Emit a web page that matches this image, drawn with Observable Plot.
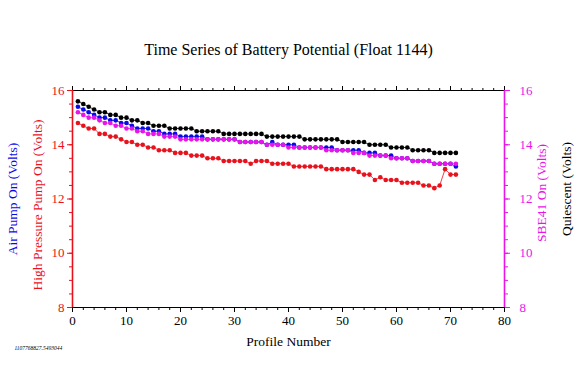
<!DOCTYPE html>
<html><head><meta charset="utf-8">
<script src="https://cdn.jsdelivr.net/npm/d3@7"></script>
<script src="https://cdn.jsdelivr.net/npm/@observablehq/plot@0.6"></script>
<style>body{margin:0;background:#fff;} svg{display:block;}</style>
</head><body><div id="chart"></div>
<script>
const profiles = [1,2,3,4,5,6,7,8,9,10,11,12,13,14,15,16,17,18,19,20,21,22,23,24,25,26,27,28,29,30,31,32,33,34,35,36,37,38,39,40,41,42,43,44,45,46,47,48,49,50,51,52,53,54,55,56,57,58,59,60,61,62,63,64,65,66,67,68,69,70,71];
const quiescent = [15.6,15.5,15.4,15.3,15.2,15.2,15.1,15.1,15.0,15.0,14.9,14.9,14.8,14.8,14.7,14.7,14.7,14.6,14.6,14.6,14.6,14.6,14.5,14.5,14.5,14.5,14.5,14.4,14.4,14.4,14.4,14.4,14.4,14.4,14.4,14.3,14.3,14.3,14.3,14.3,14.3,14.3,14.2,14.2,14.2,14.2,14.2,14.2,14.2,14.1,14.1,14.1,14.1,14.1,14.0,14.0,14.0,14.0,13.9,13.9,13.9,13.9,13.8,13.8,13.8,13.8,13.7,13.7,13.7,13.7,13.7];
const airPump = [15.4,15.3,15.2,15.1,15.0,15.0,14.9,14.9,14.8,14.8,14.7,14.6,14.6,14.6,14.5,14.5,14.4,14.4,14.4,14.3,14.3,14.3,14.3,14.3,14.2,14.2,14.2,14.2,14.2,14.2,14.1,14.1,14.1,14.1,14.1,14.0,14.1,14.0,14.0,14.0,14.0,13.9,13.9,13.9,13.9,13.9,13.9,13.9,13.8,13.8,13.8,13.8,13.8,13.7,13.7,13.7,13.6,13.6,13.6,13.5,13.5,13.5,13.4,13.4,13.4,13.4,13.3,13.3,13.3,13.3,13.2];
const sbe41 = [15.2,15.1,15.0,15.0,14.9,14.8,14.8,14.7,14.7,14.6,14.6,14.5,14.5,14.4,14.4,14.4,14.3,14.3,14.3,14.2,14.2,14.2,14.2,14.2,14.2,14.2,14.2,14.2,14.2,14.2,14.1,14.1,14.1,14.1,14.1,14.0,14.0,14.0,14.0,13.9,13.9,13.9,13.9,13.9,13.9,13.9,13.8,13.8,13.8,13.8,13.8,13.7,13.7,13.7,13.6,13.6,13.6,13.6,13.5,13.5,13.5,13.5,13.4,13.4,13.4,13.4,13.3,13.3,13.3,13.3,13.3];
const highPressure = [14.8,14.7,14.6,14.6,14.4,14.4,14.3,14.3,14.2,14.1,14.1,14.0,14.0,13.9,13.9,13.8,13.8,13.8,13.7,13.7,13.7,13.6,13.6,13.6,13.5,13.5,13.5,13.4,13.4,13.4,13.4,13.4,13.3,13.4,13.4,13.4,13.3,13.3,13.3,13.3,13.2,13.2,13.2,13.2,13.2,13.2,13.1,13.1,13.1,13.1,13.1,13.1,13.0,12.9,12.9,12.7,12.8,12.7,12.7,12.7,12.6,12.6,12.6,12.6,12.5,12.5,12.4,12.5,13.1,12.9,12.9];
const xTicks = [0,10,20,30,40,50,60,70,80];
const xMinorTicks = [0,2,4,6,8,10,12,14,16,18,20,22,24,26,28,30,32,34,36,38,40,42,44,46,48,50,52,54,56,58,60,62,64,66,68,70,72,74,76,78,80];
const yTicks = [8,10,12,14,16];
const yMinorTicks = [8,8.5,9,9.5,10,10.5,11,11.5,12,12.5,13,13.5,14,14.5,15,15.5,16];
const title = "Time Series of Battery Potential (Float 1144)";
const xLabel = "Profile Number";
const stamp = "1107768827.5493044";
const labels = {air: "Air Pump On (Volts)", hp: "High Pressure Pump On (Volts)", sbe: "SBE41 On (Volts)", q: "Quiescent (Volts)"};

const RED = "#e8121c", BLUE = "#0a0ae8", MAG = "#e814e8", BLACK = "#000";
const series = [
  {key: "q", values: quiescent, color: BLACK},
  {key: "air", values: airPump, color: BLUE},
  {key: "sbe", values: sbe41, color: MAG},
  {key: "hp", values: highPressure, color: RED}
];
const seriesMarks = series.flatMap(s => {
  const rows = profiles.map((p, i) => ({profile: p, value: s.values[i]}));
  return [
    Plot.line(rows, {x: "profile", y: "value", stroke: s.color, strokeWidth: 0.8}),
    Plot.dot(rows, {x: "profile", y: "value", fill: s.color, r: 2.3, stroke: "none"})
  ];
});
const noText = () => "";
const serif = "'Liberation Serif', 'DejaVu Serif', serif";
const chart = Plot.plot({
  width: 576, height: 379,
  marginTop: 90, marginBottom: 72, marginLeft: 72, marginRight: 72,
  x: {domain: [0, 80]},
  y: {domain: [8, 16]},
  style: {fontFamily: serif, fontSize: "12px", background: "white", overflow: "visible"},
  marks: [
    ...seriesMarks,
    Plot.axisX(xTicks, {anchor: "bottom", tickSize: 5, tickPadding: 3, fontSize: 13, label: null, color: BLACK}),
    Plot.axisX(xMinorTicks, {anchor: "bottom", tickSize: 3, tickFormat: noText, label: null, color: BLACK}),
    Plot.axisX(xTicks, {anchor: "top", tickSize: 5, tickFormat: noText, label: null, color: BLACK}),
    Plot.axisX(xMinorTicks, {anchor: "top", tickSize: 3, tickFormat: noText, label: null, color: BLACK}),
    Plot.axisY(yTicks, {anchor: "left", tickSize: 5, tickPadding: 3, fontSize: 13, label: null, color: RED}),
    Plot.axisY(yMinorTicks, {anchor: "left", tickSize: 3, tickFormat: noText, label: null, color: RED}),
    Plot.axisY(yTicks, {anchor: "right", tickSize: 5, tickPadding: 10, fontSize: 13, label: null, color: MAG}),
    Plot.axisY(yMinorTicks, {anchor: "right", tickSize: 3, tickFormat: noText, label: null, color: MAG}),
    Plot.ruleY([8, 16], {stroke: BLACK, strokeWidth: 1}),
    Plot.ruleX([0], {stroke: RED, strokeWidth: 1.6}),
    Plot.ruleX([80], {stroke: MAG, strokeWidth: 1.6}),
    Plot.text([title], {frameAnchor: "top", lineAnchor: "middle", dy: -41, fontSize: 16, fill: BLACK, fontFamily: serif}),
    Plot.text([xLabel], {frameAnchor: "bottom", lineAnchor: "middle", dy: 34, fontSize: 13.5, fill: BLACK, fontFamily: serif}),
    Plot.text([stamp], {frameAnchor: "bottom-left", lineAnchor: "middle", dx: -58, dy: 41, fontSize: 5.5, fontStyle: "italic", textAnchor: "start", fill: BLACK}),
    Plot.text([labels.air], {frameAnchor: "left", dx: -60, dy: 0, rotate: -90, textAnchor: "middle", fontSize: 13.5, fill: BLUE, fontFamily: serif}),
    Plot.text([labels.hp], {frameAnchor: "left", dx: -35, dy: 6, rotate: -90, textAnchor: "middle", fontSize: 13.5, fill: RED, fontFamily: serif}),
    Plot.text([labels.sbe], {frameAnchor: "right", dx: 37, dy: -6, rotate: -90, textAnchor: "middle", fontSize: 13.5, fill: MAG, fontFamily: serif}),
    Plot.text([labels.q], {frameAnchor: "right", dx: 62, dy: -10, rotate: -90, textAnchor: "middle", fontSize: 13.5, fill: BLACK, fontFamily: serif})
  ]
});
document.getElementById("chart").appendChild(chart);
</script>
</body></html>
